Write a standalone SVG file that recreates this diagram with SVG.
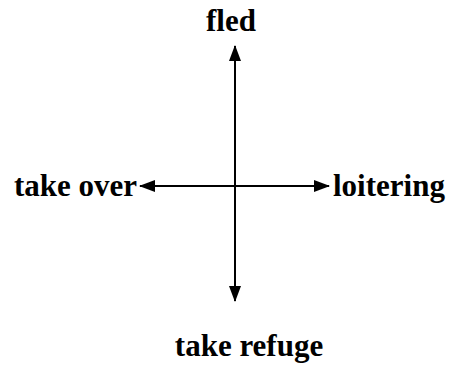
<svg xmlns="http://www.w3.org/2000/svg" width="450" height="367" viewBox="0 0 450 367">
<style>
text{font-family:"Liberation Serif","Times New Roman",serif;font-weight:bold;font-size:31px;fill:#000}
.c{stroke:#000;stroke-width:2;fill:none}
</style>
<defs>
<marker id="ah" viewBox="0 0 16 12" refX="15" refY="6" markerWidth="16" markerHeight="12" markerUnits="userSpaceOnUse" orient="auto">
<path d="M0,0 L16,6 L0,12 Z" fill="#000"/>
</marker>
</defs>
<rect width="450" height="367" fill="#fff"/>
<g id="connectors">
<line class="c" x1="235" y1="186" x2="235" y2="46" marker-end="url(#ah)"/>
<line class="c" x1="235" y1="186" x2="235" y2="301" marker-end="url(#ah)"/>
<line class="c" x1="235" y1="186" x2="140" y2="186" marker-end="url(#ah)"/>
<line class="c" x1="235" y1="186" x2="329" y2="186" marker-end="url(#ah)"/>
</g>
<g id="fled"><text x="231" y="31" text-anchor="middle">fled</text></g>
<g id="take-over"><text x="14" y="196">take over</text></g>
<g id="loitering"><text x="333" y="196">loitering</text></g>
<g id="take-refuge"><text x="249" y="356" text-anchor="middle">take refuge</text></g>
</svg>
